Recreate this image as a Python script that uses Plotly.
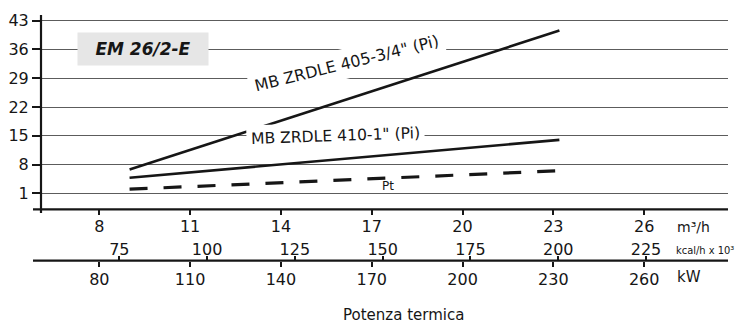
import plotly.graph_objects as go

# Portata gas (m³/h) at the two ends of each curve
portata = [9.0, 23.2]
# Pressione (mbar) for the two regulators and the test point
pi_405 = [6.8, 40.6]
pi_410 = [4.8, 14.0]
pt = [2.0, 6.5]

y_ticks = [1, 8, 15, 22, 29, 36, 43]
m3h_ticks = [8, 11, 14, 17, 20, 23, 26]
kcal_ticks = [75, 100, 125, 150, 175, 200, 225]
kw_ticks = [80, 110, 140, 170, 200, 230, 260]

FONT = "DejaVu Sans"
INK = "#161616"

W, H = 749, 324
ML, MR, MT, MB = 41, 21, 15, 0
plot_w = W - ML - MR
plot_h = H - MT - MB


def py(px):
    """pixel row -> paper fraction"""
    return (H - MB - px) / plot_h


def pxf(px):
    """pixel column -> paper fraction"""
    return (px - ML) / plot_w


axis_y = 209.3
axis2_y = 260.7

fig = go.Figure()

fig.add_trace(go.Scatter(x=portata, y=pi_405, mode="lines",
                         line=dict(color=INK, width=2.6), showlegend=False))
fig.add_trace(go.Scatter(x=portata, y=pi_410, mode="lines",
                         line=dict(color=INK, width=2.6), showlegend=False))
fig.add_trace(go.Scatter(x=portata, y=pt, mode="lines",
                         line=dict(color=INK, width=3.2, dash="18px,16px"),
                         showlegend=False))

# empty traces so the secondary scales (kcal/h, kW) are laid out
fig.add_trace(go.Scatter(x=kcal_ticks, y=[None] * len(kcal_ticks),
                         xaxis="x2", yaxis="y", mode="lines",
                         hoverinfo="skip", showlegend=False))
fig.add_trace(go.Scatter(x=kw_ticks, y=[None] * len(kw_ticks),
                         xaxis="x3", yaxis="y", mode="lines",
                         hoverinfo="skip", showlegend=False))

tickfont = dict(family=FONT, size=16, color=INK)

fig.update_layout(
    width=W, height=H,
    margin=dict(l=ML, r=MR, t=MT, b=MB, autoexpand=False),
    paper_bgcolor="white", plot_bgcolor="white",
    showlegend=False,
    xaxis=dict(range=[6.074, 28.77], tickvals=m3h_ticks, ticks="outside",
               ticklen=5, tickwidth=1.5, tickcolor=INK, tickfont=tickfont,
               ticklabelstandoff=-3,
               showgrid=False, zeroline=False, showline=False,
               anchor="y", fixedrange=True),
    xaxis2=dict(range=[52.70, 248.35], tickvals=kcal_ticks, ticks="outside",
                ticklen=5, tickwidth=1.5, tickcolor=INK, tickfont=tickfont,
                ticklabelstandoff=-6,
                side="top", anchor="free", position=py(axis2_y),
                overlaying="x", showgrid=False, zeroline=False,
                showline=False, fixedrange=True),
    xaxis3=dict(range=[60.74, 287.7], tickvals=kw_ticks, ticks="outside",
                ticklen=5, tickwidth=1.5, tickcolor=INK, tickfont=tickfont,
                ticklabelstandoff=-1,
                side="bottom", anchor="free", position=py(axis2_y),
                overlaying="x", showgrid=False, zeroline=False,
                showline=False, fixedrange=True),
    yaxis=dict(range=[-2.89, 44.39], tickvals=y_ticks, ticks="outside",
               ticklen=8, tickwidth=1.5, tickcolor=INK, tickfont=tickfont,
               showgrid=True, gridcolor="#5c5c5c", gridwidth=1.3,
               zeroline=False, showline=False,
               domain=[py(axis_y), 1], fixedrange=True),
)

# axis lines
line_style = dict(color=INK, width=2.2)
fig.add_shape(type="line", xref="paper", yref="paper",
              x0=pxf(33), x1=1, y0=py(axis_y), y1=py(axis_y), line=line_style)
fig.add_shape(type="line", xref="paper", yref="paper",
              x0=pxf(33), x1=1, y0=py(axis2_y), y1=py(axis2_y), line=line_style)
fig.add_shape(type="line", xref="paper", yref="paper",
              x0=0, x1=0, y0=py(213), y1=1, line=line_style)

# curve labels
fig.add_annotation(x=16.15, y=32.7, xref="x", yref="y",
                   text='MB ZRDLE 405-3/4" (Pi)', textangle=-14,
                   showarrow=False, bgcolor="white", borderpad=5,
                   font=dict(family=FONT, size=16, color=INK))
fig.add_annotation(x=15.79, y=14.95, xref="x", yref="y",
                   text='MB ZRDLE 410-1" (Pi)', textangle=-2,
                   showarrow=False, bgcolor="white", borderpad=4,
                   font=dict(family=FONT, size=15.6, color=INK))
fig.add_annotation(x=17.54, y=2.78, xref="x", yref="y",
                   text="Pt", showarrow=False,
                   font=dict(family=FONT, size=12, color=INK))

# model box
fig.add_annotation(x=9.44, y=36.1, xref="x", yref="y",
                   text="<b><i>EM 26/2-E</i></b>", showarrow=False,
                   width=130, height=32, bgcolor="#e6e6e6", borderpad=0,
                   font=dict(family=FONT, size=17, color=INK))

# unit labels
unit = dict(xref="paper", yref="paper", xanchor="left", yanchor="middle",
            showarrow=False)
fig.add_annotation(x=pxf(675), y=py(227), text="m³/h",
                   font=dict(family=FONT, size=14, color=INK), **unit)
fig.add_annotation(x=pxf(674), y=py(250), text="kcal/h x 10³",
                   font=dict(family="DejaVu Sans Condensed", size=11, color=INK),
                   **unit)
fig.add_annotation(x=pxf(675), y=py(277), text="kW",
                   font=dict(family=FONT, size=15, color=INK), **unit)

# axis title
fig.add_annotation(x=pxf(403), y=py(315), xref="paper", yref="paper",
                   xanchor="center", yanchor="middle",
                   text="Potenza termica", showarrow=False,
                   font=dict(family=FONT, size=15, color=INK))

fig.write_html("out.html")
